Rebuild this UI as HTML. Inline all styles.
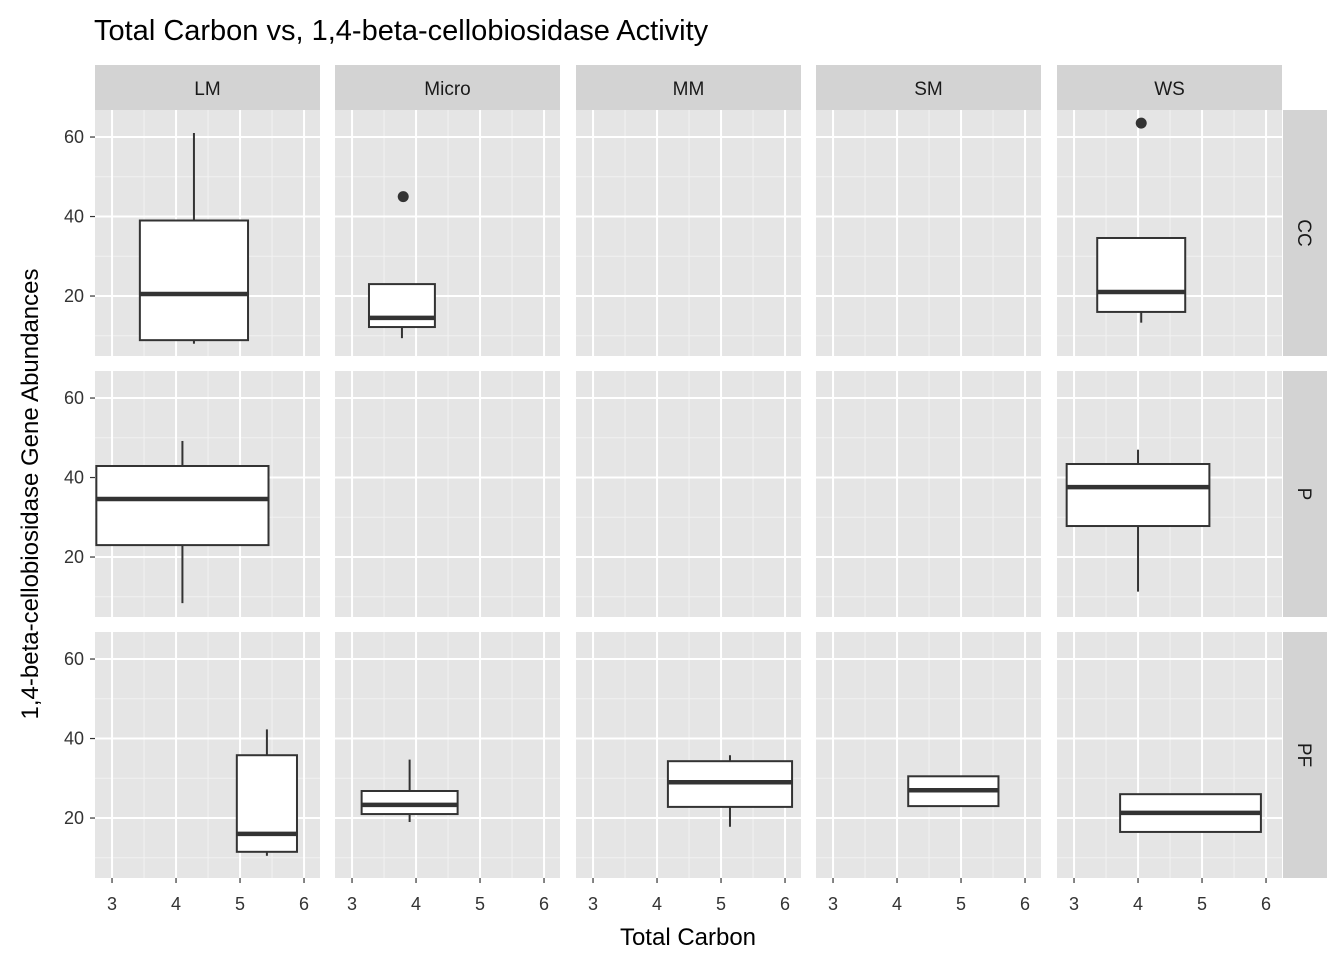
<!DOCTYPE html>
<html><head><meta charset="utf-8"><style>
html,body{margin:0;padding:0;background:#fff;}
svg text{font-family:"Liberation Sans",Arial,sans-serif;}
</style></head><body>
<svg id="chart" width="1344" height="960" xmlns="http://www.w3.org/2000/svg">
<text x="94" y="40" font-size="29" fill="#000">Total Carbon vs, 1,4-beta-cellobiosidase Activity</text>
<text x="688" y="945" font-size="24" text-anchor="middle" fill="#000">Total Carbon</text>
<text transform="translate(38,494) rotate(-90)" font-size="24" text-anchor="middle" fill="#000">1,4-beta-cellobiosidase Gene Abundances</text>
<g id="panels"></g>
</svg>
<script>
const cols = ["LM","Micro","MM","SM","WS"];
const rows = ["CC","P","PF"];
const xTicks = [3,4,5,6];
const yTicks = [20,40,60];
const boxCols = [0,1,4,0,4,0,1,2,3,4];
const boxRows = [0,0,0,1,1,2,2,2,2,2];
const boxCenter = [4.28,3.78,4.05,4.1,4.0,5.42,3.9,5.14,4.88,4.82];
const boxWidth = [1.69,1.03,1.375,2.69,2.23,0.94,1.5,1.94,1.41,2.2];
const boxLow = [8,9.4,13.3,8.4,11.3,10.5,19,17.8,23,16.5];
const boxQ1 = [8.9,12.2,16,23,27.8,11.5,21,22.8,23,16.5];
const boxMed = [20.5,14.5,21,34.6,37.6,16,23.3,29,27,21.3];
const boxQ3 = [39,23,34.6,42.9,43.4,35.8,26.8,34.3,30.5,26];
const boxHigh = [61,23,34.6,49.2,47,42.3,34.7,35.8,30.5,26];
const outCols = [1,4];
const outRows = [0,0];
const outX = [3.8,4.05];
const outY = [45,63.5];

const NS="http://www.w3.org/2000/svg";
const g=document.getElementById('panels');
const colX0=[95,335,576,816,1057], PW=225;
const rowY0=[110,371,632], PH=246;
const xmin=2.734, pxPerX=64;
const ymax=66.8, pxPerY=3.975;
function sx(c,v){return colX0[c]+(v-xmin)*pxPerX;}
function sy(r,v){return rowY0[r]+(ymax-v)*pxPerY;}
function el(t,a,p){const e=document.createElementNS(NS,t);for(const k in a)e.setAttribute(k,a[k]);(p||g).appendChild(e);return e;}

cols.forEach((cn,c)=>{
  const s=el('rect',{x:colX0[c],y:65,width:PW,height:45,fill:'#d3d3d3'});
  
  
  const t=el('text',{x:colX0[c]+PW/2,y:95,'font-size':19,'text-anchor':'middle',fill:'#1a1a1a'});
  t.textContent=cn;
  
  
  xTicks.forEach(v=>{
    const tl=el('text',{x:sx(c,v),y:910,'font-size':18,'text-anchor':'middle',fill:'#333'});
    tl.textContent=v;
    
    
    el('line',{x1:sx(c,v),x2:sx(c,v),y1:878,y2:883,stroke:'#333','stroke-width':1.2});
  });
});
rows.forEach((rn,r)=>{
  const s=el('rect',{x:1283,y:rowY0[r],width:44,height:PH,fill:'#d3d3d3'});
  
  
  const t=el('text',{transform:`translate(1298,${rowY0[r]+PH/2}) rotate(90)`,'font-size':19,'text-anchor':'middle',fill:'#1a1a1a'});
  t.textContent=rn;
  
  
  yTicks.forEach(v=>{
    const tl=el('text',{x:84,y:sy(r,v)+6,'font-size':18,'text-anchor':'end',fill:'#333'});
    tl.textContent=v;
    
    
    el('line',{x1:90,x2:95,y1:sy(r,v),y2:sy(r,v),stroke:'#333','stroke-width':1.2});
  });
});
rows.forEach((rn,r)=>cols.forEach((cn,c)=>{
  const p=el('rect',{x:colX0[c],y:rowY0[r],width:PW,height:PH,fill:'#e5e5e5'});
  
  
  [2.5,3.5,4.5,5.5].forEach(v=>{const x=sx(c,v);if(x>colX0[c]&&x<colX0[c]+PW)el('line',{x1:x,x2:x,y1:rowY0[r],y2:rowY0[r]+PH,stroke:'#f2f2f2','stroke-width':1});});
  [10,30,50].forEach(v=>el('line',{x1:colX0[c],x2:colX0[c]+PW,y1:sy(r,v),y2:sy(r,v),stroke:'#f2f2f2','stroke-width':1}));
  xTicks.forEach(v=>el('line',{x1:sx(c,v),x2:sx(c,v),y1:rowY0[r],y2:rowY0[r]+PH,stroke:'#fff','stroke-width':2}));
  yTicks.forEach(v=>el('line',{x1:colX0[c],x2:colX0[c]+PW,y1:sy(r,v),y2:sy(r,v),stroke:'#fff','stroke-width':2}));
}));
boxCenter.forEach((cx,i)=>{
  const c=boxCols[i], r=boxRows[i];
  const grp=el('g',{});
  
  
  const x=sx(c,cx), hw=boxWidth[i]*pxPerX/2;
  el('line',{x1:x,x2:x,y1:sy(r,boxHigh[i]),y2:sy(r,boxQ3[i]),stroke:'#333','stroke-width':2},grp);
  el('line',{x1:x,x2:x,y1:sy(r,boxQ1[i]),y2:sy(r,boxLow[i]),stroke:'#333','stroke-width':2},grp);
  el('rect',{x:x-hw,y:sy(r,boxQ3[i]),width:2*hw,height:sy(r,boxQ1[i])-sy(r,boxQ3[i]),fill:'#fff',stroke:'#333','stroke-width':2},grp);
  el('line',{x1:x-hw,x2:x+hw,y1:sy(r,boxMed[i]),y2:sy(r,boxMed[i]),stroke:'#333','stroke-width':4.5},grp);
});
outX.forEach((v,i)=>{
  const o=el('circle',{cx:sx(outCols[i],v),cy:sy(outRows[i],outY[i]),r:5.5,fill:'#333'});
  
  
});
</script>
</body></html>
